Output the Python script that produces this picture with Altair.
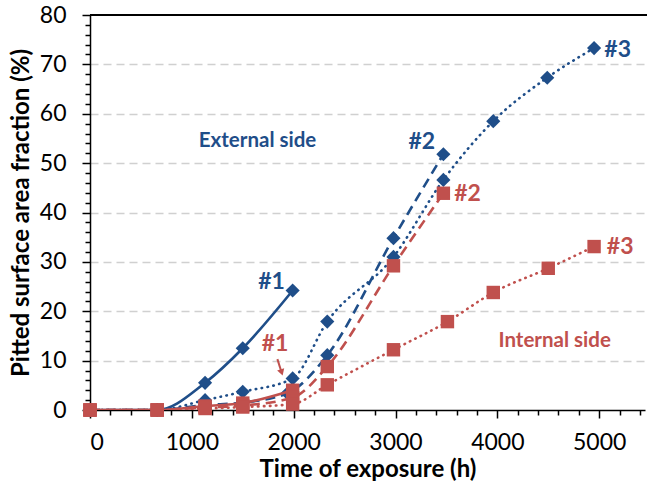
import altair as alt
import pandas as pd

BLUE = "#1F4E89"
RED = "#C0504D"
FONT = "Lato"

# ---- data ----
times_b1 = [0, 660, 1130, 1500, 1990]
frac_b1 = [0, 0, 5.5, 12.5, 24.2]
times_b2 = [0, 660, 1130, 1500, 1940, 2330, 2980, 3470]
frac_b2 = [0, 0, 1.0, 1.5, 3.4, 11.1, 34.8, 51.8]
times_b3 = [0, 660, 1130, 1500, 1990, 2330, 2980, 3470, 3960, 4490, 4950]
frac_b3 = [0, 0, 2.0, 3.7, 6.4, 17.9, 31.0, 46.6, 58.5, 67.3, 73.3]
times_r1 = [0, 660, 1130, 1500, 1990]
frac_r1 = [0, 0, 0.8, 1.4, 4.0]
times_r2 = [0, 660, 1130, 1500, 1990, 2330, 2980, 3470]
frac_r2 = [0, 0, 0.5, 0.9, 2.5, 8.8, 29.2, 43.9]
times_r3 = [0, 660, 1130, 1500, 1990, 2330, 2980, 3510, 3960, 4500, 4950]
frac_r3 = [0, 0, 0.3, 0.6, 1.2, 5.1, 12.2, 17.9, 23.8, 28.7, 33.1]

label_text = ["External side", "Internal side", "#1", "#1", "#2", "#2", "#3", "#3"]
label_side = ["ext", "int", "ext", "int", "ext", "int", "ext", "int"]
label_t = [1645, 4563, 1783, 1817, 3258, 3708, 5182, 5206]
label_y = [54.5, 13.9, 26.0, 13.3, 54.2, 43.7, 72.9, 33.0]
label_size = [20.5, 20.5, 23, 23, 23, 23, 23, 23]

arrow_t = [1840]
arrow_y = [10.3]
arrow_t2 = [1882]
arrow_y2 = [7.6]

DOT = [0.5, 5.5]
DASH = [10, 6]
series = [
    ("b1", "ext", times_b1, frac_b1, []),
    ("b2", "ext", times_b2, frac_b2, DASH),
    ("b3", "ext", times_b3, frac_b3, DOT),
    ("r1", "int", times_r1, frac_r1, []),
    ("r2", "int", times_r2, frac_r2, DASH),
    ("r3", "int", times_r3, frac_r3, DOT),
]

rows = []
for name, side, ts, fs, _ in series:
    for t, f in zip(ts, fs):
        rows.append({"series": name, "side": side, "time": t, "frac": f})
df = pd.DataFrame(rows)

labels_df = pd.DataFrame({"text": label_text, "side": label_side, "t": label_t,
                          "y": label_y, "size": label_size})
arrow_df = pd.DataFrame({"t": arrow_t, "y": arrow_y, "t2": arrow_t2, "y2": arrow_y2})

xscale = alt.Scale(domain=[0, 5450], nice=False, zero=False)
yscale = alt.Scale(domain=[0, 80], nice=False)

XTITLE = "Time of exposure (h)"
YTITLE = "Pitted surface area fraction (%)"

xaxis = alt.Axis(
    values=list(range(0, 5401, 200)),
    labelExpr="datum.value % 1000 == 0 ? datum.label : ''",
    labelOverlap=False,
    format="d",
    tickSize={"condition": {"test": "datum.value % 1000 == 0", "value": 8}, "value": 5},
    grid=False,
)
yaxis = alt.Axis(
    values=list(range(0, 81, 2)),
    labelExpr="datum.value % 10 == 0 ? datum.label : ''",
    labelOverlap=False,
    tickSize={"condition": {"test": "datum.value % 10 == 0", "value": 8}, "value": 5},
    grid=True,
    gridColor={"condition": {"test": "datum.value % 10 == 0 && datum.value > 0 && datum.value < 80",
                             "value": "#D0D0D0"}, "value": "transparent"},
)


def X(field):
    return alt.X(field, type="quantitative", scale=xscale, axis=xaxis, title=XTITLE)


def Y(field):
    return alt.Y(field, type="quantitative", scale=yscale, axis=yaxis, title=YTITLE)


base = alt.Chart(df)
layers = []
for name, side, ts, fs, dash in series:
    color = BLUE if side == "ext" else RED
    line_kwargs = dict(color=color, strokeWidth=2.6, interpolate="monotone", clip=True)
    if dash:
        line_kwargs["strokeDash"] = dash
        line_kwargs["strokeCap"] = "round" if dash[0] < 5 else "butt"
    sub = base.transform_filter(alt.datum.series == name)
    line = sub.mark_line(**line_kwargs).encode(x=X("time"), y=Y("frac"), order="time:Q")
    if side == "ext":
        pts = sub.mark_point(shape="diamond", filled=True, size=200, color=BLUE, opacity=1)
    else:
        pts = sub.mark_point(shape="square", filled=True, size=180, color=RED, opacity=1)
    pts = pts.encode(x=X("time"), y=Y("frac"))
    layers += [line, pts]

top_border = alt.Chart(df).mark_rule(color="black", strokeWidth=1.5).encode(
    y=alt.YDatum(80, type="quantitative", scale=yscale, axis=yaxis, title=YTITLE),
    x=alt.value(0), x2=alt.value(560),
)

arrow_line = alt.Chart(arrow_df).mark_rule(color=RED, strokeWidth=2).encode(
    x=X("t"), y=Y("y"), x2="t2:Q", y2="y2:Q"
)
arrow_head = alt.Chart(arrow_df).mark_point(
    shape="triangle-down", filled=True, size=55, color=RED, opacity=1, angle=342
).encode(x=X("t2"), y=Y("y2"))

text_layer = alt.Chart(labels_df).mark_text(
    font=FONT, fontWeight="bold", baseline="middle", align="center"
).encode(
    x=X("t"), y=Y("y"), text="text:N",
    size=alt.Size("size:Q", scale=None, legend=None),
    color=alt.Color("side:N", scale=alt.Scale(domain=["ext", "int"], range=[BLUE, RED]), legend=None),
)

chart = alt.layer(*layers, top_border, arrow_line, arrow_head, text_layer).properties(
    width=555, height=395,
    padding={"left": 90, "top": 15, "right": 2, "bottom": 75},
    autosize="none",
).configure_view(stroke=None).configure_axis(
    labelFont=FONT, titleFont=FONT, labelColor="black", titleColor="black",
    labelFontSize=23, titleFontSize=24, titleFontWeight="bold",
    domainColor="black", domainWidth=1.5, tickColor="black", tickWidth=1.5,
    gridDash=[8, 5], gridWidth=1.3,
).configure_axisX(labelPadding=13, titlePadding=3).configure_axisY(labelPadding=16, titlePadding=6)

chart.save("out.html", embed_options={"renderer": "svg", "actions": False})
